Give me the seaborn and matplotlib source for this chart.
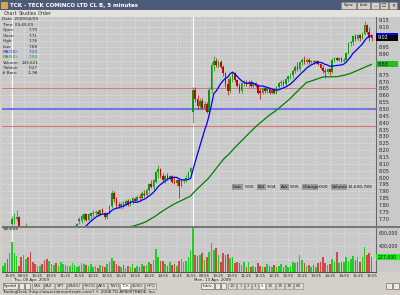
import numpy as np
import pandas as pd
import matplotlib
matplotlib.use("Agg")
import matplotlib.pyplot as plt
import seaborn as sns
from matplotlib.patches import Rectangle

sns.set_style("white")
plt.rcParams['font.family'] = ['DejaVu Sans']

# ---------------- data ----------------
# 4 bars of Apr 8 (15:40-15:55), then Thu 09 Apr (78 bars), Mon 13 Apr (78 bars), 5-minute bars
pre_open  = [7.00, 7.02, 7.04, 7.02]
pre_high  = [7.03, 7.05, 7.06, 7.06]
pre_low   = [6.98, 7.00, 7.01, 7.00]
pre_close = [7.02, 7.04, 7.02, 7.05]
pre_vol   = [80, 130, 190, 280]

d1_open = [7.66, 7.70, 7.70, 7.71, 7.62, 7.57, 7.60, 7.61, 7.54, 7.50,
           7.47, 7.45, 7.46, 7.48, 7.44, 7.43, 7.42, 7.45, 7.48, 7.50,
           7.47, 7.51, 7.53, 7.55, 7.56, 7.58, 7.60, 7.61, 7.63, 7.68,
           7.68, 7.70, 7.73, 7.69, 7.72, 7.73, 7.74, 7.75, 7.73, 7.76,
           7.74, 7.71, 7.74, 7.79, 7.89, 7.84, 7.80, 7.79, 7.81, 7.80,
           7.83, 7.80, 7.83, 7.84, 7.83, 7.86, 7.85, 7.88, 7.87, 7.91,
           7.95, 7.93, 7.97, 8.04, 8.06, 8.01, 7.98, 8.01, 7.99, 8.01,
           7.97, 7.96, 7.98, 7.94, 7.98, 7.99, 8.00, 8.04]
d1_high = [7.72, 7.74, 7.76, 7.72, 7.64, 7.62, 7.67, 7.63, 7.57, 7.53,
           7.50, 7.49, 7.50, 7.50, 7.47, 7.46, 7.47, 7.50, 7.52, 7.53,
           7.52, 7.55, 7.57, 7.58, 7.60, 7.62, 7.63, 7.65, 7.67, 7.71,
           7.73, 7.74, 7.74, 7.74, 7.75, 7.76, 7.76, 7.76, 7.77, 7.78,
           7.75, 7.75, 7.80, 7.91, 7.90, 7.86, 7.82, 7.82, 7.83, 7.84,
           7.84, 7.84, 7.86, 7.86, 7.87, 7.88, 7.90, 7.91, 7.92, 7.96,
           7.98, 7.99, 8.05, 8.09, 8.07, 8.03, 8.02, 8.03, 8.02, 8.02,
           8.01, 7.99, 7.99, 7.99, 8.00, 8.02, 8.05, 8.08]
d1_low  = [7.62, 7.66, 7.68, 7.60, 7.55, 7.54, 7.58, 7.52, 7.48, 7.45,
           7.42, 7.41, 7.43, 7.42, 7.40, 7.39, 7.40, 7.43, 7.46, 7.45,
           7.45, 7.49, 7.50, 7.52, 7.54, 7.56, 7.57, 7.59, 7.61, 7.66,
           7.67, 7.68, 7.68, 7.68, 7.70, 7.71, 7.72, 7.72, 7.72, 7.73,
           7.70, 7.70, 7.73, 7.78, 7.82, 7.78, 7.78, 7.77, 7.78, 7.79,
           7.79, 7.79, 7.81, 7.82, 7.82, 7.83, 7.84, 7.86, 7.86, 7.89,
           7.92, 7.91, 7.96, 8.00, 8.00, 7.97, 7.96, 7.98, 7.98, 7.96,
           7.95, 7.94, 7.85, 7.93, 7.96, 7.97, 7.99, 8.02]
d1_close = [7.70, 7.70, 7.71, 7.62, 7.57, 7.60, 7.61, 7.54, 7.50, 7.47,
            7.45, 7.46, 7.48, 7.44, 7.43, 7.42, 7.45, 7.48, 7.50, 7.47,
            7.51, 7.53, 7.55, 7.56, 7.58, 7.60, 7.61, 7.63, 7.66, 7.70,
            7.72, 7.73, 7.69, 7.73, 7.74, 7.74, 7.75, 7.73, 7.76, 7.74,
            7.71, 7.74, 7.79, 7.89, 7.84, 7.80, 7.79, 7.81, 7.80, 7.83,
            7.80, 7.83, 7.85, 7.83, 7.86, 7.85, 7.89, 7.87, 7.91, 7.95,
            7.93, 7.98, 8.04, 8.06, 8.01, 7.98, 8.01, 7.99, 8.01, 7.97,
            7.96, 7.98, 7.94, 7.98, 7.99, 8.00, 8.04, 8.07]
d1_vol = [460, 280, 244, 90, 220, 250, 200, 220, 300, 150,
          120, 90, 80, 110, 180, 200, 160, 120, 100, 130,
          90, 150, 120, 100, 80, 90, 130, 100, 70, 90,
          130, 110, 100, 80, 120, 70, 90, 60, 100, 80,
          70, 110, 150, 210, 160, 120, 90, 70, 100, 60,
          80, 70, 110, 60, 90, 70, 120, 80, 100, 150,
          110, 180, 350, 230, 160, 170, 120, 90, 140, 100,
          120, 80, 160, 190, 150, 170, 220, 330]

d2_open = [8.48, 8.64, 8.57, 8.52, 8.56, 8.51, 8.54, 8.48, 8.64, 8.82,
           8.85, 8.82, 8.84, 8.81, 8.76, 8.68, 8.63, 8.72, 8.76, 8.71,
           8.67, 8.63, 8.69, 8.70, 8.68, 8.70, 8.67, 8.69, 8.67, 8.63,
           8.62, 8.65, 8.63, 8.65, 8.62, 8.64, 8.62, 8.66, 8.69, 8.70,
           8.68, 8.72, 8.74, 8.75, 8.78, 8.81, 8.79, 8.84, 8.86, 8.84,
           8.86, 8.84, 8.85, 8.84, 8.85, 8.83, 8.80, 8.78, 8.77, 8.79,
           8.77, 8.86, 8.87, 8.86, 8.87, 8.85, 8.86, 8.91, 8.98, 8.99,
           9.03, 9.01, 9.04, 9.02, 9.05, 9.11, 9.06, 9.04]
d2_high = [8.66, 8.66, 8.60, 8.58, 8.58, 8.56, 8.55, 8.66, 8.84, 8.89,
           8.87, 8.86, 8.86, 8.82, 8.77, 8.73, 8.74, 8.78, 8.77, 8.72,
           8.69, 8.70, 8.71, 8.71, 8.71, 8.71, 8.70, 8.70, 8.68, 8.65,
           8.66, 8.66, 8.66, 8.66, 8.65, 8.65, 8.67, 8.70, 8.71, 8.71,
           8.73, 8.75, 8.76, 8.79, 8.82, 8.84, 8.85, 8.87, 8.89, 8.87,
           8.87, 8.86, 8.86, 8.86, 8.86, 8.84, 8.82, 8.80, 8.80, 8.80,
           8.87, 8.88, 8.88, 8.88, 8.88, 8.87, 8.92, 8.99, 9.00, 9.04,
           9.05, 9.05, 9.05, 9.06, 9.14, 9.12, 9.10, 9.05]
d2_low  = [8.40, 8.55, 8.50, 8.50, 8.50, 8.49, 8.47, 8.47, 8.62, 8.78,
           8.81, 8.80, 8.80, 8.74, 8.66, 8.60, 8.62, 8.70, 8.70, 8.66,
           8.62, 8.62, 8.67, 8.67, 8.66, 8.66, 8.65, 8.66, 8.61, 8.57,
           8.61, 8.62, 8.62, 8.61, 8.61, 8.61, 8.61, 8.65, 8.67, 8.67,
           8.67, 8.70, 8.72, 8.73, 8.76, 8.78, 8.78, 8.82, 8.83, 8.83,
           8.83, 8.83, 8.83, 8.83, 8.82, 8.79, 8.76, 8.73, 8.76, 8.75,
           8.76, 8.84, 8.85, 8.85, 8.84, 8.84, 8.85, 8.90, 8.96, 8.97,
           9.00, 9.00, 9.00, 9.01, 9.04, 9.05, 9.00, 9.00]
d2_close = [8.64, 8.57, 8.52, 8.56, 8.51, 8.54, 8.48, 8.64, 8.82, 8.85,
            8.82, 8.84, 8.81, 8.76, 8.68, 8.63, 8.72, 8.76, 8.71, 8.67,
            8.63, 8.69, 8.70, 8.68, 8.70, 8.67, 8.69, 8.67, 8.62, 8.62,
            8.65, 8.63, 8.65, 8.62, 8.64, 8.62, 8.66, 8.69, 8.70, 8.68,
            8.72, 8.74, 8.75, 8.78, 8.81, 8.79, 8.84, 8.86, 8.84, 8.86,
            8.84, 8.85, 8.84, 8.85, 8.83, 8.80, 8.78, 8.77, 8.79, 8.77,
            8.86, 8.87, 8.86, 8.87, 8.85, 8.86, 8.91, 8.98, 8.99, 9.03,
            9.01, 9.04, 9.02, 9.05, 9.11, 9.06, 9.02, 9.02]
d2_vol = [668, 250, 240, 257, 283, 180, 231, 308, 437, 334,
          360, 257, 154, 283, 257, 270, 206, 220, 129, 140,
          129, 103, 140, 77, 140, 77, 87, 67, 129, 87,
          77, 67, 118, 87, 77, 103, 77, 87, 118, 77,
          103, 67, 87, 140, 129, 154, 257, 180, 129, 87,
          103, 77, 103, 77, 129, 154, 231, 129, 103, 118,
          190, 140, 308, 129, 154, 140, 231, 170, 190, 241,
          180, 220, 154, 231, 385, 257, 283, 227]

ma_short, ma_long = 10, 50
hlines_red = [8.65, 8.375]
hline_blue = 8.50
price_ticks = [round(7.70 + 0.05 * k, 2) for k in range(30)]
vol_ticks = [200000, 400000, 600000]
time_labels = ["15:55", "09:55", "10:25", "10:55", "11:25", "11:55", "12:25", "12:55",
               "13:25", "13:55", "14:25", "14:55", "15:25", "15:55",
               "09:55", "10:25", "10:55", "11:25", "11:55", "12:25", "12:55",
               "13:25", "13:55", "14:25", "14:55", "15:25", "15:55"]
info_box = [("Date:", "2009/04/09"), ("Time:", "09:40:00"), ("Open:", "7.70"),
            ("Close:", "7.71"), ("High:", "7.76"), ("Low:", "7.68"),
            ("MA(10):", "7.23"), ("MA(50):", "7.03"), ("Volume:", "243,621"),
            ("%Value:", "0.27"), ("# Bars:", "-1.96")]

df = pd.DataFrame({
    "open": pre_open + d1_open + d2_open,
    "high": pre_high + d1_high + d2_high,
    "low": pre_low + d1_low + d2_low,
    "close": pre_close + d1_close + d2_close,
    "vol": [v * 1000 for v in pre_vol + d1_vol + d2_vol],
})
df["idx"] = np.arange(len(df))
df["ma10"] = df["close"].rolling(ma_short, min_periods=1).mean()
df["ma50"] = df["close"].rolling(ma_long, min_periods=1).mean()
df["up"] = df["close"] >= df["open"]
n_pre = len(pre_open)
day2_start = n_pre + len(d1_open)

last_close = df["close"].iloc[-1]
ma10_last = df["ma10"].iloc[-1]
ma50_last = df["ma50"].iloc[-1]
last_vol = df["vol"].iloc[-1]

# ---------------- layout helpers ----------------
W, H = 400, 295
def box(x0, y0, x1, y1):
    return [x0 / W, 1 - y1 / H, (x1 - x0) / W, (y1 - y0) / H]

def fx(x):
    return x / W

def fy(y):
    return 1 - y / H

BG = '#c9c9c9'
FRAME = '#d4d0c8'
fig = plt.figure(figsize=(4, 2.95), dpi=100)
fig.patch.set_facecolor(FRAME)

def rect(x0, y0, x1, y1, color, ec='none', lw=0.5, z=0):
    fig.add_artist(Rectangle((fx(x0), fy(y1)), (x1 - x0) / W, (y1 - y0) / H,
                             transform=fig.transFigure, facecolor=color,
                             edgecolor=ec, linewidth=lw, zorder=z))

def ftext(x, y, s, size=3.6, color='#111111', ha='left', va='center', z=10, **kw):
    fig.text(fx(x), fy(y), s, fontsize=size, color=color, ha=ha, va=va, zorder=z, **kw)

# right-side strip and chart bg
rect(2, 17, 400, 272, BG)
# title bar
rect(0, 0, 400, 10, '#4e5b78')
rect(1, 1.5, 8, 8.5, '#e0a040')
ftext(10, 5.2, "TCK - TECK COMINCO LTD CL B, 5 minutes", size=4.0, color='white', weight='bold')
for x0, x1, s in [(341, 356, "Sync"), (357, 370, "Link")]:
    rect(x0, 1.5, x1, 8.5, '#d4d0c8', ec='#808080')
    ftext((x0 + x1) / 2, 5.2, s, size=3.0, ha='center')
for x0 in [371, 380, 389]:
    rect(x0, 1.5, x0 + 8, 8.5, '#d4d0c8', ec='#808080')
ftext(375, 5.2, "_", size=3.2, ha='center')
ftext(384, 5.2, "□", size=3.2, ha='center')
ftext(393, 5.2, "×", size=3.6, ha='center')
# menu bar
rect(0, 10, 400, 17, '#e4e2dc')
ftext(4, 13.5, "Chart", size=3.5, color='#333333')
ftext(19, 13.5, "Studies", size=3.5, color='#333333')
ftext(38, 13.5, "Order", size=3.5, color='#333333')

# ---------------- price panel ----------------
ax = fig.add_axes(box(2, 17, 376, 226))
ax.set_facecolor(BG)
x_lo = n_pre + (2 - 12) / 2.32
x_hi = n_pre + (376 - 12) / 2.32
ax.set_xlim(x_lo, x_hi)
ax.set_ylim(7.646, 9.172)

tick_pos = [n_pre - 1 + 6 * k for k in range(len(time_labels))]
ax.set_xticks(tick_pos)
ax.set_yticks(price_ticks)
ax.grid(True, color='#e6e6e6', linestyle=(0, (2, 2)), linewidth=0.5)
ax.tick_params(axis='x', labelbottom=False, length=0)
ax.yaxis.tick_right()
ax.tick_params(axis='y', labelsize=3.5, length=0, pad=2, labelcolor='#222222')
covered = [last_close, ma10_last, ma50_last]
ax.set_yticklabels(["" if min(abs(t - c) for c in covered) < 0.03 else f"{t:.2f}"
                    for t in price_ticks])
for s in ['top', 'left', 'bottom']:
    ax.spines[s].set_visible(False)
ax.spines['right'].set_color('#555555')
ax.spines['right'].set_linewidth(0.6)

for sep in [n_pre, day2_start]:
    ax.axvline(sep, color='white', lw=0.8, zorder=1)
for yv in hlines_red:
    ax.axhline(yv, color='#e07070', lw=0.7, zorder=1)
ax.axhline(hline_blue, color='#7070ee', lw=1.4, zorder=1)

GREEN_C = '#0a9a0a'
RED_C = '#cc0000'
col = np.where(df["up"], GREEN_C, RED_C)
ax.vlines(df["idx"], df["low"], df["high"], colors=col, lw=0.5, zorder=3)
body_h = (df["close"] - df["open"]).abs().clip(lower=0.004)
ax.bar(df["idx"], body_h, bottom=df[["open", "close"]].min(axis=1), width=0.7,
       color=col, zorder=4, linewidth=0)

sns.lineplot(data=df, x="idx", y="ma10", ax=ax, color='#0000ff', lw=0.9, zorder=5, legend=False)
sns.lineplot(data=df, x="idx", y="ma50", ax=ax, color='#008000', lw=0.9, zorder=5, legend=False)
ax.set_xlabel("")
ax.set_ylabel("")

# right axis value boxes
def ybox(price):
    return 109 - (price - 8.50) / 0.0073
yb = ybox(ma10_last)
rect(376, yb - 3, 398, yb + 3, '#0000ff', z=6)
yb = ybox(last_close)
rect(376, yb - 3, 398, yb + 3, '#000000', z=7)
ftext(378, yb, f"{last_close:.2f}", size=3.5, color='white', z=8)
yb = ybox(ma50_last)
rect(376, yb - 3, 398, yb + 3, '#22bb22', z=7)
ftext(378, yb, f"{ma50_last:.2f}", size=3.5, color='#111111', z=8)

# data box top-left
for k, (lab, val) in enumerate(info_box):
    yy = 19.5 + k * 5.4
    c = '#222222'
    if lab.startswith("MA(10"):
        c = '#2020ff'
    elif lab.startswith("MA(50"):
        c = '#109010'
    if k < 2:
        ftext(2.5, yy, f"{lab} {val}", size=3.0, color='#222222')
    else:
        ftext(2.5, yy, lab, size=3.0, color=c)
        ftext(38, yy, val, size=3.0, color=c, ha='right')

# quote row
quote = [("Last", "9.00"), ("Bid", "9.04"), ("Ask", "9.05"), ("Change", "0.00"), ("Volume", "12,630,789")]
qx = 232
for lab, val in quote:
    wl = 3 + 2.1 * len(lab)
    rect(qx, 184, qx + wl, 190, '#9a9a9a', z=6)
    ftext(qx + 1, 187, lab, size=3.2, color='#111111', z=7)
    qx += wl + 1
    ftext(qx, 187, val, size=3.2, color='#111111', z=7)
    qx += 2.1 * len(val) + 4

# ---------------- volume panel ----------------
axv = fig.add_axes(box(2, 227.5, 376, 271.5))
axv.set_facecolor(BG)
axv.set_xlim(x_lo, x_hi)
axv.set_ylim(0, 680000)
vcol = np.where(df["up"], '#22cc22', '#d04848')
axv.bar(df["idx"], df["vol"], width=0.7, color=vcol, linewidth=0, zorder=3)
axv.set_xticks(tick_pos)
axv.set_xticklabels(time_labels)
axv.set_yticks(vol_ticks)
axv.set_yticklabels(["" if abs(t - last_vol) < 60000 else f"{t:,}" for t in vol_ticks])
axv.yaxis.tick_right()
axv.grid(True, color='#e6e6e6', linestyle=(0, (2, 2)), linewidth=0.5)
axv.tick_params(axis='y', labelsize=3.4, length=0, pad=2, labelcolor='#222222')
axv.tick_params(axis='x', labelsize=2.8, length=1.0, pad=0.6, labelcolor='#222222', color='#333333')
for s in ['top', 'left']:
    axv.spines[s].set_visible(False)
axv.spines['right'].set_color('#555555')
axv.spines['right'].set_linewidth(0.6)
axv.spines['bottom'].set_color('#333333')
axv.spines['bottom'].set_linewidth(0.6)
axv.axvline(n_pre, color='white', lw=0.8, zorder=1)
axv.axvline(day2_start, color='white', lw=0.8, zorder=1)
ftext(3, 229.5, "Volume", size=3.2, color='#222222')
vy = 227.5 + (680000 - last_vol) / 680000 * 44
rect(376, vy - 3, 400, vy + 3, '#22ee22', z=7)
ftext(378, vy, f"{last_vol:,.0f}", size=3.3, color='#111111', z=8)

# separator between panels
rect(2, 226, 400, 227.5, '#777777', z=2)

# dates under axis
rect(12, 278, 48, 282, '#dedcd6', z=3)
ftext(13, 280.2, "Thu, 09 Apr, 2009", size=2.9, color='#111111')
rect(193, 278, 229, 282, '#dedcd6', z=3)
ftext(194, 280.2, "Mon, 13 Apr, 2009", size=2.9, color='#111111')

# tabs row
rect(0, 282.3, 400, 289, FRAME)
tabs = ["FAS", "FAZ", "SPY", "$INDU", "YHOO", "AKS", "TWO", "TCK", "$USO", "HPQ"]
rect(3, 283, 18, 288.5, '#ece9e0', ec='#707070')
ftext(10.5, 285.8, "Symbl", size=3.0, ha='center')
rect(19, 283, 24, 288.5, '#ece9e0', ec='#707070')
rect(25, 283, 30, 288.5, '#ece9e0', ec='#707070')
tx = 32
for t in tabs:
    w = 4 + 2.2 * len(t)
    rect(tx, 283, tx + w, 288.5, '#ffffff' if t == "TCK" else '#dcd9d0', ec='#909090')
    ftext(tx + w / 2, 285.8, t, size=3.0, ha='center', color='#333333')
    tx += w + 1
rect(201, 283, 214, 288.5, '#ece9e0', ec='#707070')
ftext(207.5, 285.8, "Intrv", size=3.0, ha='center')
rect(215, 283, 220, 288.5, '#ece9e0', ec='#707070')
rect(221, 283, 226, 288.5, '#ece9e0', ec='#707070')
tx = 228
for t in ["1D", "1", "2", "3", "5", "10", "15", "30", "60"]:
    w = 4 + 2.2 * len(t)
    rect(tx, 283, tx + w, 288.5, '#ffffff' if t == "5" else '#dcd9d0', ec='#909090')
    ftext(tx + w / 2, 285.8, t, size=3.0, ha='center', color='#333333')
    tx += w + 1
rect(386, 283, 392, 288.5, '#ece9e0', ec='#707070')
rect(393, 283, 399, 288.5, '#ece9e0', ec='#707070')

ftext(2, 292.3, "TradingDesk (http://www.tdameritrade.com/) © 2008 TD AMERITRADE, Inc.", size=3.0, color='#222222')

fig.savefig("out.png", dpi=100, facecolor=fig.get_facecolor())
